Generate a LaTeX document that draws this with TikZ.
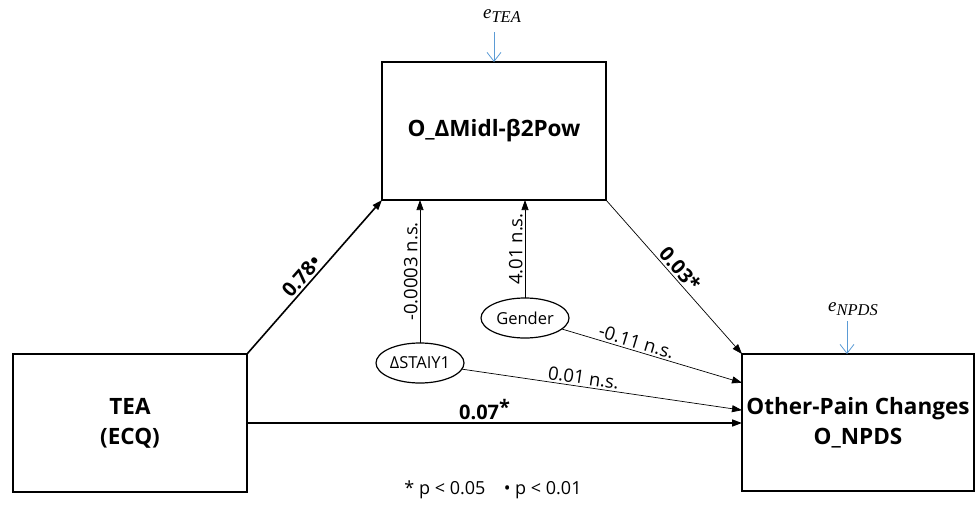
\documentclass[tikz,border=0pt]{standalone}
\usepackage{fontspec}
\setmainfont{Open Sans}
\newfontfamily\errfont{Liberation Serif}
\usetikzlibrary{arrows.meta,shapes.geometric,calc}

\definecolor{errblue}{RGB}{91,155,213}

\tikzset{
  var/.style={draw, line width=1.5pt, inner sep=0pt, outer sep=0pt, align=center,
    font=\fontsize{22.5}{30}\selectfont\bfseries},
  covar/.style={draw, ellipse, line width=1.2pt, inner sep=0pt, outer sep=0pt,
    minimum width=88pt, minimum height=40pt, font=\fontsize{16.5}{18}\selectfont},
  path/.style={-{Triangle[length=10pt,width=7pt]}, line width=0.7pt},
  mainpath/.style={path, line width=1.6pt},
  errpath/.style={-{Straight Barb[length=9pt,width=14pt]}, errblue, line width=0.8pt},
  coef/.style={font=\fontsize{18.5}{20}\selectfont, sloped, inner sep=2pt},
  bcoef/.style={font=\fontsize{20}{22}\selectfont\bfseries, sloped, inner sep=2pt},
  errlabel/.style={font=\errfont\itshape\fontsize{19}{20}\selectfont}
}

\begin{document}
\begin{tikzpicture}[x=1pt, y=-1pt]
\useasboundingbox (0,0) rectangle (977,506);
% variables
\node[var, minimum width=224pt, minimum height=138pt] (mid) at (494,131) {O\_ΔMidl-β2Pow};
\node[var, minimum width=234pt, minimum height=138pt] (tea) at (130,423) {TEA\\(ECQ)};
\node[var, minimum width=232pt, minimum height=137pt] (npds) at (858,422.5) {Other-Pain Changes\\O\_NPDS};
\node[covar] (staiy) at (420,363) {ΔSTAIY1};
\node[covar] (gender) at (525,318) {Gender};
% errors
\node[errlabel] (etea) at (502,16) {e\raisebox{-4pt}{\fontsize{16.5}{18}\selectfont TEA}};
\node[errlabel] (enpds) at (853,309) {e\raisebox{-4pt}{\fontsize{16.5}{18}\selectfont NPDS}};
\coordinate (eteaout) at (494,32);
\coordinate (enpdsout) at (847,321);
\coordinate (enpdsin) at (847,354);
\draw[errpath] (eteaout) -- (mid.north);
\draw[errpath] (enpdsout) -- (enpdsin);
% paths
\draw[mainpath] (tea.north east) -- (mid.south west) node[bcoef, pos=0.46, above] {0.78•};
\draw[path] (mid.south east) -- (npds.north west) node[bcoef, pos=0.49, above] {0.03*};
\draw[mainpath] (tea.east) -- (tea.east -| npds.west) node[bcoef, pos=0.48, above] {0.07\raisebox{5pt}{*}};
\draw[path] (staiy.north) -- (staiy.north |- mid.south) node[coef, midway, above] {-0.0003 n.s.};
\draw[path] (gender.north) -- (gender.north |- mid.south) node[coef, midway, above] {4.01 n.s.};
\draw[path] (gender) -- ($(npds.north west)!0.21!(npds.south west)$) node[coef, pos=0.4, above] {-0.11 n.s.};
\draw[path] (staiy) -- ($(npds.north west)!0.41!(npds.south west)$) node[coef, pos=0.43, above] {0.01 n.s.};
% legend
\node[font=\fontsize{18}{20}\selectfont] (legend) at (493,490) {* p < 0.05 \enspace\ • p < 0.01};
\end{tikzpicture}
\end{document}
